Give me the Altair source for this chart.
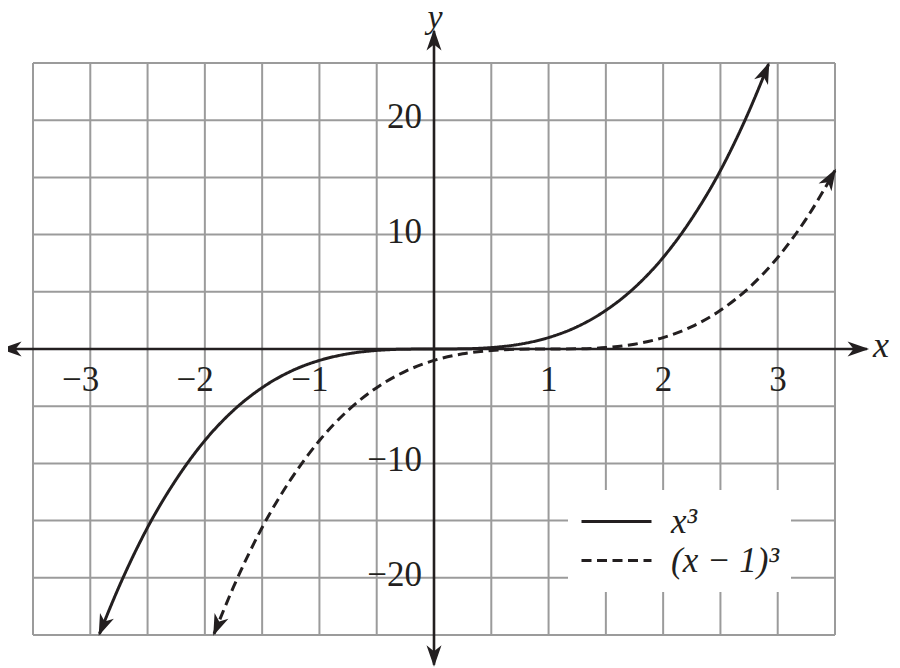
import math
import altair as alt
import pandas as pd

# ---------------- data ----------------
series_names = ["x³", "(x − 1)³"]

cube_x = [-2.92, -2.75, -2.5, -2.25, -2.0, -1.75, -1.5, -1.25, -1.0, -0.75, -0.5, -0.25, 0.0,
          0.25, 0.5, 0.75, 1.0, 1.25, 1.5, 1.75, 2.0, 2.25, 2.5, 2.75, 2.92]
cube_y = [-24.9, -20.8, -15.6, -11.4, -8.0, -5.36, -3.38, -1.95, -1.0, -0.42, -0.125, -0.016, 0.0,
          0.016, 0.125, 0.42, 1.0, 1.95, 3.38, 5.36, 8.0, 11.4, 15.6, 20.8, 24.9]

shift_x = [-1.92, -1.75, -1.5, -1.25, -1.0, -0.75, -0.5, -0.25, 0.0, 0.25, 0.5, 0.75, 1.0,
           1.25, 1.5, 1.75, 2.0, 2.25, 2.5, 2.75, 3.0, 3.25, 3.5]
shift_y = [-24.9, -20.8, -15.6, -11.4, -8.0, -5.36, -3.38, -1.95, -1.0, -0.42, -0.125, -0.016, 0.0,
           0.016, 0.125, 0.42, 1.0, 1.95, 3.38, 5.36, 8.0, 11.4, 15.6]

x_grid = [-3.5, -3.0, -2.5, -2.0, -1.5, -1.0, -0.5, 0.0, 0.5, 1.0, 1.5, 2.0, 2.5, 3.0, 3.5]
y_grid = [-25, -20, -15, -10, -5, 0, 5, 10, 15, 20, 25]

x_tick_vals = [-3, -2, -1, 1, 2, 3]
x_tick_text = ["−3", "−2", "−1", "1", "2", "3"]
y_tick_vals = [-20, -10, 10, 20]
y_tick_text = ["−20", "−10", "10", "20"]

x_axis_ends = [-3.77, 3.78]
y_axis_ends = [-27.6, 27.8]

# ---------------- styling / layout ----------------
W, H = 802, 572
X_DOMAIN = [-3.5, 3.5]
Y_DOMAIN = [-25, 25]
INK = "#231f20"
GRID = "#9b9b9b"
FONT = "Liberation Serif"

xs = alt.Scale(domain=X_DOMAIN, nice=False, zero=False)
ys = alt.Scale(domain=Y_DOMAIN, nice=False, zero=False)

PX_X = W / (X_DOMAIN[1] - X_DOMAIN[0])
PX_Y = H / (Y_DOMAIN[1] - Y_DOMAIN[0])


def heading(x0, y0, x1, y1):
    dx = (x1 - x0) * PX_X
    dy = -(y1 - y0) * PX_Y
    return (math.degrees(math.atan2(dx, -dy)) + 360.0) % 360.0


# curves table
rows = []
for name, xv, yv in [(series_names[0], cube_x, cube_y), (series_names[1], shift_x, shift_y)]:
    for i, (a, b) in enumerate(zip(xv, yv)):
        rows.append({"series": name, "x": a, "y": b, "i": i})
curve_df = pd.DataFrame(rows)

# arrowheads table (curve ends and axis ends)
arrows = []
for xv, yv in [(cube_x, cube_y), (shift_x, shift_y)]:
    arrows.append({"x": xv[0], "y": yv[0], "angle": heading(xv[1], yv[1], xv[0], yv[0])})
    arrows.append({"x": xv[-1], "y": yv[-1], "angle": heading(xv[-2], yv[-2], xv[-1], yv[-1])})
arrows.append({"x": x_axis_ends[1], "y": 0, "angle": 90.0})
arrows.append({"x": x_axis_ends[0], "y": 0, "angle": 270.0})
arrows.append({"x": 0, "y": y_axis_ends[1], "angle": 0.0})
arrows.append({"x": 0, "y": y_axis_ends[0], "angle": 180.0})
arrow_df = pd.DataFrame(arrows)

ARROW_PATH = "M0,-0.2 L0.75,1.95 L0,1.35 L-0.75,1.95 Z"

# grid lines
vgrid_df = pd.DataFrame({"x": x_grid, "y0": [y_grid[0]] * len(x_grid), "y1": [y_grid[-1]] * len(x_grid)})
hgrid_df = pd.DataFrame({"y": y_grid, "x0": [x_grid[0]] * len(y_grid), "x1": [x_grid[-1]] * len(y_grid)})

vgrid = alt.Chart(vgrid_df).mark_rule(color=GRID, strokeWidth=2).encode(
    x=alt.X("x:Q", scale=xs, axis=None), y=alt.Y("y0:Q", scale=ys, axis=None), y2="y1:Q"
)
hgrid = alt.Chart(hgrid_df).mark_rule(color=GRID, strokeWidth=2).encode(
    y=alt.Y("y:Q", scale=ys, axis=None), x=alt.X("x0:Q", scale=xs, axis=None), x2="x1:Q"
)

curves = alt.Chart(curve_df).mark_line(
    interpolate="monotone", strokeWidth=3, color=INK
).encode(
    x=alt.X("x:Q", scale=xs, axis=None),
    y=alt.Y("y:Q", scale=ys, axis=None),
    strokeDash=alt.StrokeDash(
        "series:N",
        scale=alt.Scale(domain=series_names, range=[[1, 0], [10, 5.5]]),
        legend=alt.Legend(
            title=None, orient="none", legendX=535, legendY=427,
            symbolType="stroke", symbolSize=4900, symbolStrokeWidth=3,
            symbolStrokeColor=INK, labelFont=FONT, labelFontSize=35,
            labelFontStyle="italic", labelColor=INK, fillColor="white",
            padding=12, rowPadding=0, labelOffset=18, labelLimit=300,
            clipHeight=39,
        ),
    ),
    order="i:Q",
)

xaxis_df = pd.DataFrame({"x": [x_axis_ends[0]], "x2": [x_axis_ends[1]], "y": [0]})
yaxis_df = pd.DataFrame({"y": [y_axis_ends[0]], "y2": [y_axis_ends[1]], "x": [0]})

x_axis_line = alt.Chart(xaxis_df).mark_rule(color=INK, strokeWidth=2.6).encode(
    x=alt.X("x:Q", scale=xs, axis=None), x2="x2:Q", y=alt.Y("y:Q", scale=ys, axis=None)
)
y_axis_line = alt.Chart(yaxis_df).mark_rule(color=INK, strokeWidth=2.6).encode(
    y=alt.Y("y:Q", scale=ys, axis=None), y2="y2:Q", x=alt.X("x:Q", scale=xs, axis=None)
)

heads = alt.Chart(arrow_df).mark_point(
    shape=ARROW_PATH, size=400, filled=True, fill=INK, opacity=1, strokeWidth=0
).encode(
    x=alt.X("x:Q", scale=xs, axis=None),
    y=alt.Y("y:Q", scale=ys, axis=None),
    angle=alt.Angle("angle:Q", scale=None),
)

xlab_df = pd.DataFrame({"v": x_tick_vals, "t": x_tick_text, "y0": [0] * len(x_tick_vals)})
ylab_df = pd.DataFrame({"v": y_tick_vals, "t": y_tick_text, "x0": [0] * len(y_tick_vals)})

x_labels = alt.Chart(xlab_df).mark_text(
    align="right", baseline="alphabetic", dx=9, dy=42, font=FONT, fontSize=35, color=INK
).encode(
    x=alt.X("v:Q", scale=xs, axis=None), y=alt.Y("y0:Q", scale=ys, axis=None), text="t:N"
)
y_labels = alt.Chart(ylab_df).mark_text(
    align="right", baseline="alphabetic", dx=-12, dy=8, font=FONT, fontSize=35, color=INK
).encode(
    x=alt.X("x0:Q", scale=xs, axis=None), y=alt.Y("v:Q", scale=ys, axis=None), text="t:N"
)

name_df = pd.DataFrame({
    "x": [x_axis_ends[1], 0],
    "y": [0, y_axis_ends[1]],
    "t": ["x", "y"],
})
x_name = alt.Chart(name_df.iloc[[0]]).mark_text(
    align="left", baseline="alphabetic", dx=6, dy=8, font=FONT, fontSize=36,
    fontStyle="italic", color=INK
).encode(x=alt.X("x:Q", scale=xs, axis=None), y=alt.Y("y:Q", scale=ys, axis=None), text="t:N")
y_name = alt.Chart(name_df.iloc[[1]]).mark_text(
    align="center", baseline="alphabetic", dx=1, dy=-3, font=FONT, fontSize=34,
    fontStyle="italic", color=INK
).encode(x=alt.X("x:Q", scale=xs, axis=None), y=alt.Y("y:Q", scale=ys, axis=None), text="t:N")

chart = alt.layer(
    vgrid, hgrid, curves, x_axis_line, y_axis_line, x_labels, y_labels, x_name, y_name, heads
).properties(
    width=W, height=H,
    padding={"left": 25, "top": 55, "right": 57, "bottom": 33},
    autosize=alt.AutoSizeParams(type="none"),
    background="white",
).configure_view(stroke=None)

chart.save("out.html", embed_options={"renderer": "svg", "actions": False})
